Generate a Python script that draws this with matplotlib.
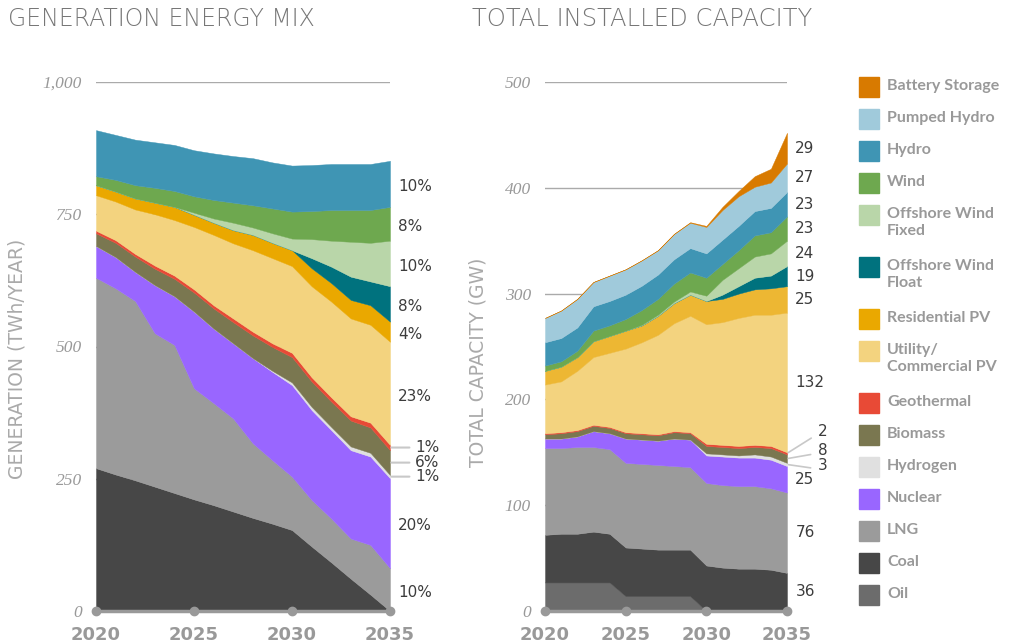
import numpy as np
import matplotlib
matplotlib.use('Agg')
import matplotlib.pyplot as plt
from matplotlib.patches import Rectangle

years = list(range(2020, 2036))

# generation mix, TWh/year (bottom to top)
gen_coal = [270, 258, 247, 235, 223, 211, 200, 188, 176, 165, 153, 122, 92, 61, 31, 0]
gen_lng = [360, 352, 339, 290, 280, 210, 193, 176, 141, 120, 101, 88, 83, 76, 94, 81]
gen_nuclear = [60, 59, 55, 91, 92, 145, 141, 142, 161, 167, 173, 170, 167, 167, 167, 170]
gen_hydrogen = [0, 0, 0, 0, 0, 0, 0, 0, 0, 2, 5, 6, 6, 7, 7, 6]
gen_biomass = [24, 27, 29, 31, 33, 36, 38, 40, 43, 45, 48, 48, 48, 49, 48, 47]
gen_geothermal = [5, 5, 5, 6, 6, 6, 6, 7, 7, 7, 8, 8, 8, 8, 9, 10]
gen_utility = [67, 73, 84, 97, 105, 118, 133, 142, 154, 161, 164, 172, 181, 185, 185, 195]
gen_residential = [19, 19, 21, 22, 25, 23, 23, 25, 29, 29, 30, 34, 35, 35, 37, 38]
gen_float = [0, 0, 0, 0, 0, 0, 0, 0, 0, 0, 0, 19, 31, 44, 45, 67]
gen_fixed = [0, 0, 0, 0, 0, 4, 8, 14, 14, 18, 22, 36, 49, 66, 73, 86]
gen_wind = [17, 22, 25, 28, 30, 31, 35, 38, 42, 47, 51, 53, 58, 60, 62, 64]
gen_hydro = [87, 85, 86, 86, 87, 87, 88, 88, 89, 87, 87, 87, 87, 87, 87, 87]

# installed capacity, GW (bottom to top)
cap_oil = [27, 27, 27, 27, 27, 14, 14, 14, 14, 14, 0, 0, 0, 0, 0, 0]
cap_coal = [45, 46, 46, 48, 46, 46, 45, 44, 44, 44, 43, 41, 40, 40, 39, 36]
cap_lng = [82, 81, 82, 80, 80, 80, 80, 80, 79, 78, 78, 78, 78, 78, 77, 76]
cap_nuclear = [9, 9, 10, 15, 15, 23, 23, 23, 26, 26, 26, 27, 27, 27, 27, 25]
cap_hydrogen = [0, 0, 0, 0, 0, 0, 0, 0, 0, 0, 2, 2, 2, 3, 3, 3]
cap_biomass = [4, 5, 5, 5, 5, 5, 5, 5, 6, 6, 7, 7, 7, 7, 8, 8]
cap_geothermal = [1, 1, 1, 1, 1, 1, 1, 1, 1, 1, 2, 2, 2, 2, 2, 2]
cap_utility = [46, 48, 56, 64, 70, 79, 86, 94, 102, 110, 113, 116, 121, 123, 124, 132]
cap_residential = [13, 14, 13, 15, 16, 17, 16, 18, 19, 20, 22, 22, 23, 24, 25, 25]
cap_float = [0, 0, 0, 0, 0, 0, 0, 0, 0, 0, 0, 4, 7, 11, 12, 19]
cap_fixed = [0, 0, 0, 0, 0, 0, 0.5, 1, 1.5, 3, 5, 14, 17, 20, 21, 24]
cap_wind = [5, 5, 6, 10, 10, 11, 14, 15, 17, 18, 17, 15, 17, 20, 20, 23]
cap_hydro = [22, 22, 22, 23, 23, 23, 23, 23, 23, 23, 23, 23, 23, 23, 23, 23]
cap_pumped = [23, 26, 27, 23, 24, 24, 24, 23, 24, 24, 25, 28, 28, 23, 24, 27]
cap_battery = [0, 0, 0, 0, 0, 0, 0, 0, 0, 0.5, 1, 3, 5, 10, 13, 29]

gen_names = ['Coal', 'LNG', 'Nuclear', 'Hydrogen', 'Biomass', 'Geothermal',
             'Utility/Commercial PV', 'Residential PV', 'Offshore Wind Float',
             'Offshore Wind Fixed', 'Wind', 'Hydro']
gen_values = [gen_coal, gen_lng, gen_nuclear, gen_hydrogen, gen_biomass, gen_geothermal,
              gen_utility, gen_residential, gen_float, gen_fixed, gen_wind, gen_hydro]
cap_names = ['Oil'] + gen_names + ['Pumped Hydro', 'Battery Storage']
cap_values = [cap_oil, cap_coal, cap_lng, cap_nuclear, cap_hydrogen, cap_biomass, cap_geothermal,
              cap_utility, cap_residential, cap_float, cap_fixed, cap_wind, cap_hydro,
              cap_pumped, cap_battery]

# 2035 end labels
gen_end_labels = {'Hydro': '10%', 'Wind': '8%', 'Offshore Wind Fixed': '10%',
                  'Offshore Wind Float': '8%', 'Residential PV': '4%',
                  'Utility/Commercial PV': '23%', 'Nuclear': '20%', 'LNG': '10%'}
gen_leader_labels = {'Geothermal': '1%', 'Biomass': '6%', 'Hydrogen': '1%'}
cap_end_labels = {'Battery Storage': '29', 'Pumped Hydro': '27', 'Hydro': '23', 'Wind': '23',
                  'Offshore Wind Fixed': '24', 'Offshore Wind Float': '19', 'Residential PV': '25',
                  'Utility/Commercial PV': '132', 'Nuclear': '25', 'LNG': '76', 'Coal': '36'}
cap_leader_labels = {'Geothermal': '2', 'Biomass': '8', 'Hydrogen': '3'}

legend_names = ['Battery Storage', 'Pumped Hydro', 'Hydro', 'Wind', 'Offshore Wind\nFixed',
                'Offshore Wind\nFloat', 'Residential PV', 'Utility/\nCommercial PV', 'Geothermal',
                'Biomass', 'Hydrogen', 'Nuclear', 'LNG', 'Coal', 'Oil']

colors = {'Battery Storage': '#d87a00', 'Pumped Hydro': '#a0cadb', 'Hydro': '#3f95b4',
          'Wind': '#6ea84f', 'Offshore Wind Fixed': '#b9d6a9', 'Offshore Wind Float': '#00727e',
          'Residential PV': '#eaa800', 'Utility/Commercial PV': '#f3d37f', 'Geothermal': '#e84a36',
          'Biomass': '#7a7750', 'Hydrogen': '#e0e0e0', 'Nuclear': '#9966ff', 'LNG': '#9b9b9b',
          'Coal': '#474747', 'Oil': '#6c6c6c'}

W, H = 1016, 644
fig = plt.figure(figsize=(W / 100, H / 100), dpi=100)
ax1 = fig.add_axes([96 / W, 33 / H, 294 / W, 529 / H])
ax2 = fig.add_axes([545 / W, 33 / H, 242 / W, 529 / H])


def draw_stack(ax, names, values, ymax, step, res_color):
    cols = [colors[n] for n in names]
    cols = [res_color if n == 'Residential PV' else c for n, c in zip(names, cols)]
    polys = ax.stackplot(years, *values, colors=cols, zorder=2)
    for p, c in zip(polys, cols):
        p.set_edgecolor(c)
        p.set_linewidth(0.3)
    ax.set_xlim(2020, 2035)
    ax.set_ylim(0, ymax)
    ticks = list(range(0, ymax + 1, step))
    ax.set_yticks(ticks, ['{:,}'.format(t) for t in ticks], fontfamily='Liberation Serif',
                  fontstyle='italic', fontsize=12.5, color='#999999')
    ax.set_xticks([2020, 2025, 2030, 2035], ['2020', '2025', '2030', '2035'],
                  fontweight='bold', fontsize=13, color='#999999')
    ax.tick_params(axis='y', length=0, pad=10)
    ax.tick_params(axis='x', length=0, pad=11)
    ax.grid(axis='y', color='#aaaaaa', linewidth=1)
    ax.set_axisbelow(True)
    for s in ax.spines.values():
        s.set_visible(False)
    ax.plot([2020, 2035], [0, 0], color='#999999', lw=2.5, zorder=5, clip_on=False,
            solid_capstyle='round')
    ax.scatter([2020, 2025, 2030, 2035], [0, 0, 0, 0], s=36, color='#999999', zorder=6,
               clip_on=False)
    # band middles at the last year
    last = np.array([v[-1] for v in values])
    mids = np.cumsum(last) - last / 2
    return dict(zip(names, mids))


gen_mids = draw_stack(ax1, gen_names, gen_values, 1000, 250, '#eaa800')
cap_mids = draw_stack(ax2, cap_names, cap_values, 500, 100, '#edb733')

label_kw = dict(textcoords='offset points', va='center', ha='left', fontsize=11,
                color='#3c3c3c', annotation_clip=False)
for name, txt in gen_end_labels.items():
    ax1.annotate(txt, xy=(2035, gen_mids[name]), xytext=(6, -2), **label_kw)
for name, txt in gen_leader_labels.items():
    ax1.annotate(txt, xy=(2035, gen_mids[name]), xytext=(18, 0),
                 arrowprops=dict(arrowstyle='-', color='#c8c8c8', lw=1.5, shrinkA=2, shrinkB=1,
                                 relpos=(0, 0.5)), **label_kw)
for name, txt in cap_end_labels.items():
    ax2.annotate(txt, xy=(2035, cap_mids[name]), xytext=(6, 0), **label_kw)
cap_offsets = {'Geothermal': 16, 'Biomass': 6, 'Hydrogen': -1}
for name, txt in cap_leader_labels.items():
    ax2.annotate(txt, xy=(2035, cap_mids[name]), xytext=(22, cap_offsets[name]),
                 arrowprops=dict(arrowstyle='-', color='#c8c8c8', lw=1.2, shrinkA=3, shrinkB=1,
                                 relpos=(0, 0.3)), **label_kw)

# titles and axis names
fig.text(8 / W, 1 - 19 / H, 'GENERATION ENERGY MIX', ha='left', va='center', fontsize=17,
         color='#777777', fontweight='light')
fig.text(472 / W, 1 - 19 / H, 'TOTAL INSTALLED CAPACITY', ha='left', va='center', fontsize=17.5,
         color='#777777', fontweight='light')
fig.text(17 / W, 1 - 359 / H, 'GENERATION (TWh/YEAR)', rotation=90, ha='center', va='center',
         fontsize=13.5, color='#aaaaaa')
fig.text(478 / W, 1 - 362 / H, 'TOTAL CAPACITY (GW)', rotation=90, ha='center', va='center',
         fontsize=13.5, color='#aaaaaa')

# legend
y = 87
for name in legend_names:
    key = name.replace('\n', ' ').replace('/ ', '/')
    fig.add_artist(Rectangle((859 / W, 1 - (y + 10) / H), 20 / W, 20 / H,
                             transform=fig.transFigure, color=colors[key]))
    fig.text(887 / W, 1 - (y - 8) / H, name, ha='left', va='top', fontsize=11.5,
             family=['Lato', 'DejaVu Sans'], color='#999999', fontweight='bold',
             linespacing=1.3)
    y += 52 if '\n' in name else 32

fig.savefig('out.png', dpi=100)
